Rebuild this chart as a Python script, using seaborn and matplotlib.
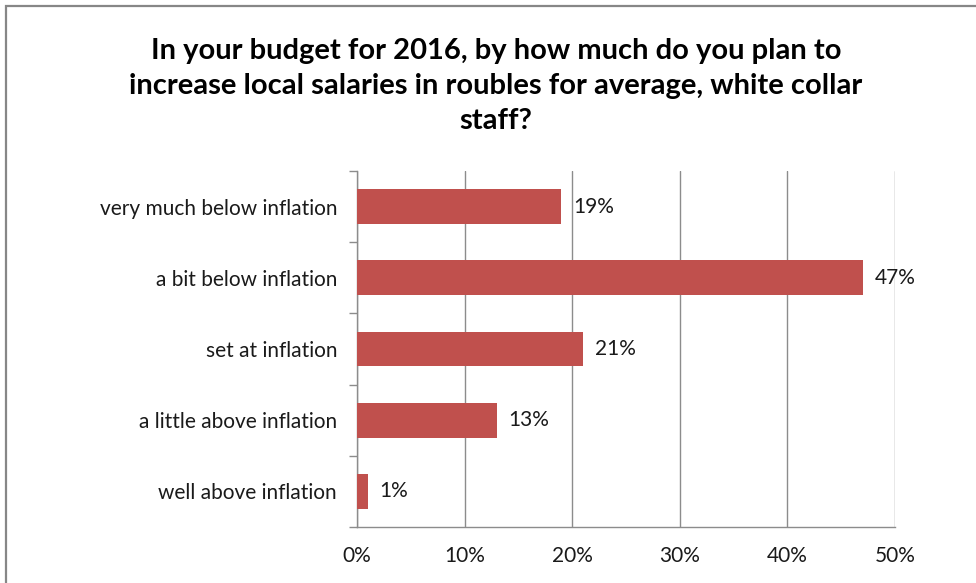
import matplotlib
matplotlib.use("Agg")
import matplotlib.pyplot as plt
from matplotlib.patches import Rectangle
from matplotlib.ticker import FixedLocator, FuncFormatter
import seaborn as sns
import pandas as pd

# Survey answers and share of respondents (%)
answers = [
    "very much below inflation",
    "a bit below inflation",
    "set at inflation",
    "a little above inflation",
    "well above inflation",
]
shares = [19, 47, 21, 13, 1]
x_ticks = [0, 10, 20, 30, 40, 50]

title = ("In your budget for 2016, by how much do you plan to\n"
         "increase local salaries in roubles for average, white collar\n"
         "staff?")

df = pd.DataFrame({"answer": answers, "share": shares})

sns.set_theme(style="white")
plt.rcParams["font.family"] = ["Lato", "DejaVu Sans"]

W, H = 976, 583
fig = plt.figure(figsize=(W / 100, H / 100), dpi=100)
ax = fig.add_axes([357 / W, 1 - 527 / H, (895 - 357) / W, (527 - 171) / H])

grid_c = "#8c8c8c"
bar_c = "#C0504D"
text_c = "#1a1a1a"
fs = 15

sns.barplot(data=df, x="share", y="answer", orient="h", color=bar_c,
            width=0.49, saturation=1, ax=ax, edgecolor="none", zorder=3)

ax.set_xlim(0, 50)
ax.set_ylim(4.5, -0.5)
ax.xaxis.set_major_locator(FixedLocator(x_ticks))
ax.xaxis.set_major_formatter(FuncFormatter(lambda v, _: f"{v:.0f}%"))
ax.grid(axis="x", color=grid_c, linewidth=1, zorder=0)
ax.grid(axis="y", visible=False)
ax.set_xlabel("")
ax.set_ylabel("")

for side in ("top", "right"):
    ax.spines[side].set_visible(False)
for side in ("left", "bottom"):
    ax.spines[side].set_color(grid_c)
    ax.spines[side].set_linewidth(1)

ax.tick_params(axis="x", which="major", direction="out", length=7, width=1,
               color=grid_c, labelsize=fs, labelcolor=text_c, pad=7)
ax.tick_params(axis="y", which="major", length=0, labelsize=fs,
               labelcolor=text_c, pad=14.4)
# category boundary ticks on the value axis
ax.yaxis.set_minor_locator(FixedLocator([-0.5, 0.5, 1.5, 2.5, 3.5, 4.5]))
ax.tick_params(axis="y", which="minor", direction="out", length=6, width=1,
               color=grid_c, left=True)

for cont in ax.containers:
    ax.bar_label(cont, labels=[f"{v}%" for v in shares], padding=8.5,
                 fontsize=fs, color=text_c)

fig.text(496 / W, 1 - 86 / H, title, ha="center", va="center",
         fontsize=21, fontweight="bold", color="#000000", linespacing=1.45)

# chart frame
fig.patches.append(Rectangle((5.5 / W, -0.1), 1.2, 1 - 6.5 / H + 0.1,
                             transform=fig.transFigure, fill=False,
                             edgecolor="#878787", linewidth=1.6))

fig.savefig("out.png", dpi=100)
